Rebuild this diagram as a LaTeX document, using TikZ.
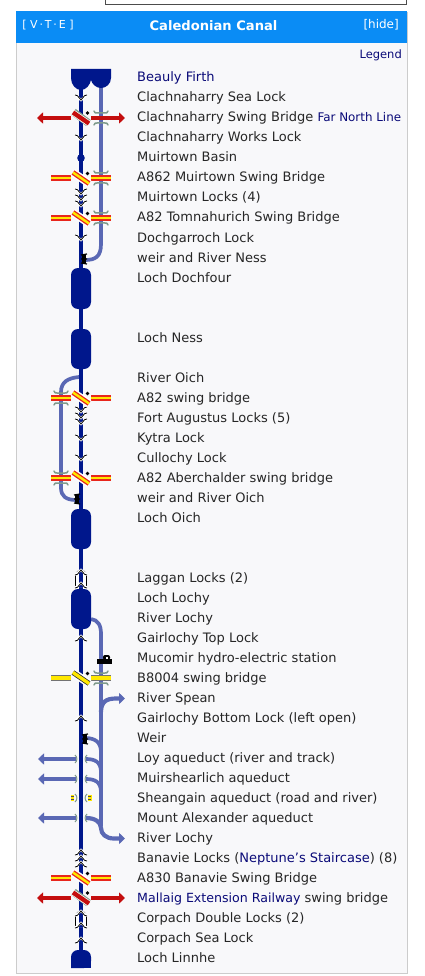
\documentclass[tikz,border=0pt]{standalone}
\usepackage{fontspec}
\setmainfont{DejaVu Sans}
\usetikzlibrary{arrows.meta}
\definecolor{canal}{HTML}{00178C}
\definecolor{old}{HTML}{5A68B4}
\definecolor{rd}{HTML}{C40E0E}
\definecolor{brred}{HTML}{E8261C}
\definecolor{yl}{HTML}{FFE800}
\definecolor{wingc}{HTML}{7F9A8C}
\definecolor{hdr}{HTML}{0A8CF5}
\definecolor{lnk}{HTML}{0A0A78}
\newcommand{\rowtxt}[3]{\node[rowlabel] (#1) at (137,#2) {#3};}
\newcommand{\lk}[1]{\draw[lockw] (75,#1-3) -- (81,#1+2) -- (87,#1-3);\draw[lockb] (75,#1-3) .. controls (77,#1-3) .. (81,#1+2) .. controls (85,#1-3) .. (87,#1-3);}
\newcommand{\lku}[1]{\draw[lockw] (75,#1+3) -- (81,#1-2) -- (87,#1+3);\draw[lockb] (75,#1+3) .. controls (77,#1+3) .. (81,#1-2) .. controls (85,#1+3) .. (87,#1+3);}
\newcommand{\lbox}[2]{\draw[black,line width=.7pt,fill=white] (75.5,#2) -- (75.5,#1+3) -- (78,#1) -- (84,#1) -- (86.5,#1+3) -- (86.5,#2);\draw[canal,line width=4pt] (81,#1) -- (81,#2);\lku{#1+1}\lku{#2-2}}
\newcommand{\loch}[2]{\fill[canal,rounded corners=7pt] (71,#1) rectangle (91,#2);}
\newcommand{\diag}[3]{\draw[white,line width=8pt] (73,#1-5.5) -- (89,#1+5.5);\draw[#2,line width=5pt] (73,#1-5.5) -- (89,#1+5.5);\draw[#3,line width=2.4pt] (73,#1-5.5) -- (89,#1+5.5);\fill[black] (87.5,#1-4.5) circle (1.9);}
\newcommand{\diagg}[3]{\draw[wingc,line width=7.5pt] (73.5,#1-6) -- (88.5,#1+5);\draw[white,line width=5.8pt] (73,#1-5.5) -- (89,#1+5.5);\draw[#2,line width=4.4pt] (73,#1-5.5) -- (89,#1+5.5);\fill[black] (87.5,#1-5) circle (1.9);}
\newcommand{\seg}[5]{\draw[#4,line width=6pt] (#1,#3) -- (#2,#3);\draw[#5,line width=2.8pt] (#1,#3) -- (#2,#3);}
\newcommand{\wing}[2]{\draw[wingc,line width=1.5pt,line cap=round] (#1-7,#2-7) .. controls (#1-6,#2-5) .. (#1-4,#2-5) -- (#1+4,#2-5) .. controls (#1+6,#2-5) .. (#1+7,#2-7);\draw[wingc,line width=1.5pt,line cap=round] (#1-7,#2+7) .. controls (#1-6,#2+5) .. (#1-4,#2+5) -- (#1+4,#2+5) .. controls (#1+6,#2+5) .. (#1+7,#2+7);}
\newcommand{\larrow}[1]{\draw[fatarrow] (76,#1) -- (38,#1);}
\newcommand{\brk}[1]{\draw[wingc,line width=1pt] (75,#1-4) .. controls (77.5,#1-2) and (77.5,#1+2) .. (75,#1+4);\draw[wingc,line width=1pt] (87,#1-4) .. controls (84.5,#1-2) and (84.5,#1+2) .. (87,#1+4);}
\newcommand{\weirmark}[2]{\draw[black,line width=1.2pt] (#1-3,#2-4) -- (#1+3,#2-5) (#1-3,#2) -- (#1+3,#2) (#1-3,#2+4) -- (#1+3,#2+5);\fill[black] (#1-2.5,#2-5) rectangle (#1+1.5,#2+5);}
\tikzset{
 rowlabel/.style={anchor=west,inner sep=0pt,yshift=-1.5pt,font=\fontsize{13}{14}\selectfont,text=black!85,text height=9.5pt,text depth=2.5pt},
 lockw/.style={white,line width=2.4pt},
 lockb/.style={black,line width=.8pt},
 oldline/.style={old,line width=3.7pt},
 fatarrow/.style={old,line width=4.2pt,-{Triangle[length=6pt,width=11pt]}},
 redarrow/.style={rd,line width=4.5pt,-{Triangle[length=6pt,width=11pt]}},
}
\begin{document}
\begin{tikzpicture}[x=1pt,y=-1pt]
\useasboundingbox (0,0) rectangle (424,976);
\fill[white] (0,0) rectangle (424,976);
\draw[black!70,line width=.8pt] (105.5,-2) -- (105.5,4) -- (406.5,4) -- (406.5,-2);
\draw[black!20,fill={rgb,255:red,248;green,248;blue,250},line width=.8pt] (16,12) rectangle (407,973);
\fill[hdr] (16,11) rectangle (407,43);
\node[text=white,font=\fontsize{11}{13}\selectfont,anchor=center,inner sep=0pt] (vte) at (48,25) {[\,\,V\,·\,T\,·\,E\,\,]};
\node[text=white,font=\bfseries\fontsize{13.1}{15}\selectfont] (title) at (213.5,26) {Caledonian Canal};
\node[text=white,font=\fontsize{12}{13}\selectfont,anchor=east,inner sep=0pt] (hide) at (399,25) {[hide]};
\node[anchor=east,text=lnk,inner sep=0pt,font=\fontsize{11.5}{14}\selectfont] (legend) at (402,55.5) {Legend};
\draw[oldline] (101,85) -- (101,244) .. controls (101,257) and (95,260) .. (85,260);
\draw[oldline] (79,377) .. controls (68,378) and (61,382) .. (61,392) -- (61,488) .. controls (61,496) and (66,500) .. (76,500);
\draw[oldline] (91,619) .. controls (98,620) and (101,625) .. (101,634) -- (101,826);
\draw[canal,line width=4pt] (81,85) -- (81,952);
\fill[canal] (71,69) -- (111,69) -- (111,78) .. controls (111,84) and (106,88) .. (101,88) .. controls (96,88) and (92,84) .. (91,80) .. controls (90,85) and (86,90) .. (81,90) .. controls (76,90) and (71,85) .. (71,78) -- cycle;
\loch{268}{309}
\loch{329}{369}
\loch{509}{549}
\loch{589}{629}
\fill[canal,rounded corners=7pt] (71,968) -- (71,950) -- (91,950) -- (91,968) [sharp corners] -- cycle;
\fill[canal] (71,960) rectangle (91,968);
\fill[canal] (81,158) circle (3.8);
\lk{98} \lk{138}
\lk{192} \lk{198} \lk{204}
\lk{238}
\lk{410} \lk{416} \lk{422}
\lk{438} \lk{458}
\lbox{571}{587}
\lku{638} \lku{718}
\lku{852} \lku{858} \lku{864}
\lbox{912}{927}
\lku{940}
\wing{101}{118}
\draw[redarrow] (71,118) -- (37,118);
\draw[redarrow] (91,118) -- (125,118);
\diagg{118}{rd}{rd}
\wing{101}{178}
\seg{51}{71}{178}{brred}{yl}\seg{91}{111}{178}{brred}{yl}
\diag{178}{brred}{yl}
\wing{101}{218}
\seg{51}{71}{218}{brred}{yl}\seg{91}{111}{218}{brred}{yl}
\diag{218}{brred}{yl}
\weirmark{84}{259}
\wing{61}{398}
\seg{51}{71}{398}{brred}{yl}\seg{91}{111}{398}{brred}{yl}
\diag{398}{brred}{yl}
\wing{61}{478}
\seg{51}{71}{478}{brred}{yl}\seg{91}{111}{478}{brred}{yl}
\diag{478}{brred}{yl}
\weirmark{77}{499}
% Mucomir hydro-electric station
\fill[black] (97,659) rectangle (112,663.5);
\fill[black,rounded corners=2pt] (103,660) -- (103,655) -- (110,655) -- (110,660) -- cycle;
\fill[white] (106,656.5) rectangle (107.5,658.5);
% B8004
\wing{101}{678}
\seg{51}{71}{678}{black!55}{yl}\seg{91}{111}{678}{black!55}{yl}
\draw[yl,line width=4pt] (51,678) -- (71,678) (91,678) -- (111,678);
\diag{678}{black!80}{yl}
\draw[yl,line width=3.4pt] (73,672.5) -- (89,683.5);
\draw[fatarrow] (101,712) .. controls (101,702) and (106,698.5) .. (116,698.5) -- (125,698.5);
\draw[oldline] (85,738) .. controls (95,738) and (101,742) .. (101,752);
\weirmark{85}{739}
\larrow{759}\larrow{779}\larrow{818}
\draw[oldline] (86,759) .. controls (95,759) and (101,762) .. (101,772);
\draw[oldline] (86,779) .. controls (95,779) and (101,782) .. (101,792);
\draw[fatarrow] (86,818) .. controls (95,818) and (101,822) .. (101,828) .. controls (101,834) and (106,838.5) .. (114,838.5) -- (125,838.5);
\brk{759}\brk{779}\brk{798}\brk{818}
\draw[yl,line width=6pt] (70.5,798) -- (74,798);
\draw[black!70,line width=.5pt] (71,796.5) -- (74,796.5) (71,799.5) -- (74,799.5);
\draw[yl,line width=6pt] (88,798) -- (91.5,798);
\draw[black!70,line width=.5pt] (88,796.5) -- (91,796.5) (88,799.5) -- (91,799.5);
\seg{51}{71}{878}{brred}{yl}\seg{91}{111}{878}{brred}{yl}
\diag{878}{brred}{yl}
\draw[redarrow] (71,898) -- (37,898);
\draw[redarrow] (91,898) -- (125,898);
\diagg{898}{rd}{rd}
\node[rowlabel] (a1) at (137,77) {\textcolor{lnk}{Beauly Firth}};
\rowtxt{a2}{97}{Clachnaharry Sea Lock}
\rowtxt{a3}{117}{Clachnaharry Swing Bridge {\fontsize{11.9}{14}\selectfont\textcolor{lnk}{Far North Line}}}
\rowtxt{a4}{137}{Clachnaharry Works Lock}
\rowtxt{a5}{157}{Muirtown Basin}
\rowtxt{a6}{177}{A862 Muirtown Swing Bridge}
\rowtxt{a7}{197}{Muirtown Locks (4)}
\rowtxt{a8}{217}{A82 Tomnahurich Swing Bridge}
\rowtxt{a9}{237}{Dochgarroch Lock}
\rowtxt{a10}{257}{weir and River Ness}
\rowtxt{a11}{277}{Loch Dochfour}
\rowtxt{a12}{337}{Loch Ness}
\rowtxt{a13}{377}{River Oich}
\rowtxt{a14}{397}{A82 swing bridge}
\rowtxt{a15}{417}{Fort Augustus Locks (5)}
\rowtxt{a16}{437}{Kytra Lock}
\rowtxt{a17}{457}{Cullochy Lock}
\rowtxt{a18}{477}{A82 Aberchalder swing bridge}
\rowtxt{a19}{497}{weir and River Oich}
\rowtxt{a20}{517}{Loch Oich}
\rowtxt{a21}{577}{Laggan Locks (2)}
\rowtxt{a22}{597}{Loch Lochy}
\rowtxt{a23}{617}{River Lochy}
\rowtxt{a24}{637}{Gairlochy Top Lock}
\rowtxt{a25}{657}{Mucomir hydro-electric station}
\rowtxt{a26}{677}{B8004 swing bridge}
\rowtxt{a27}{697}{River Spean}
\rowtxt{a28}{717}{Gairlochy Bottom Lock (left open)}
\rowtxt{a29}{737}{Weir}
\rowtxt{a30}{757}{Loy aqueduct (river and track)}
\rowtxt{a31}{777}{Muirshearlich aqueduct}
\rowtxt{a32}{797}{Sheangain aqueduct (road and river)}
\rowtxt{a33}{817}{Mount Alexander aqueduct}
\rowtxt{a34}{837}{River Lochy}
\rowtxt{a35}{857}{Banavie Locks (\textcolor{lnk}{Neptune's Staircase}) (8)}
\rowtxt{a36}{877}{A830 Banavie Swing Bridge}
\rowtxt{a37}{897}{{\fontsize{12.6}{14}\selectfont\textcolor{lnk}{Mallaig Extension Railway}} swing bridge}
\rowtxt{a38}{917}{Corpach Double Locks (2)}
\rowtxt{a39}{937}{Corpach Sea Lock}
\rowtxt{a40}{957}{Loch Linnhe}
\end{tikzpicture}
\end{document}
